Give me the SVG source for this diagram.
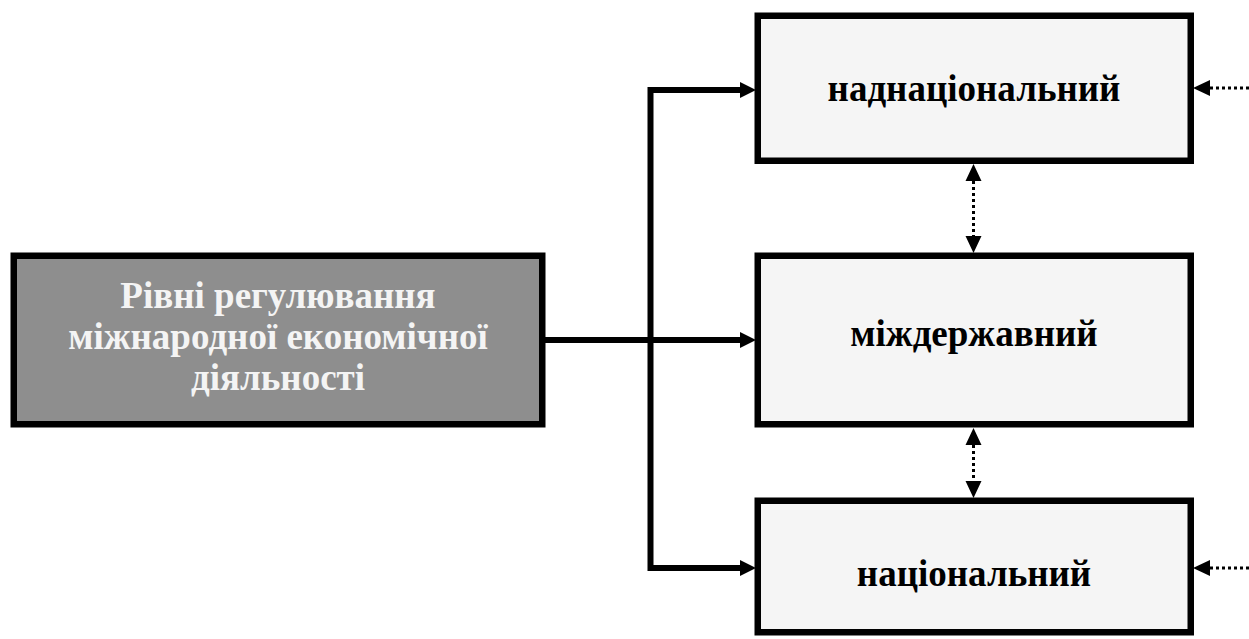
<svg xmlns="http://www.w3.org/2000/svg" width="1249" height="639" viewBox="0 0 1249 639">
<style>
.box{fill:#f5f5f5;stroke:#000;stroke-width:6.5}
.main{fill:#8e8e8e;stroke:#000;stroke-width:6.5}
.t{font-family:"Liberation Serif","Times New Roman",serif;font-weight:bold;font-size:37px;text-anchor:middle;fill:#000}
.tw{fill:#f4f4f4}
.solid{fill:none;stroke:#000;stroke-width:6}
.dot{fill:none;stroke:#000;stroke-width:3;stroke-dasharray:3 3}
</style>
<defs>
<marker id="ah" markerUnits="userSpaceOnUse" markerWidth="16" markerHeight="18" refX="0" refY="9" orient="auto">
<path d="M0,1 L16,9 L0,17 Z" fill="#000"/>
</marker>
<marker id="ah2" markerUnits="userSpaceOnUse" markerWidth="18" markerHeight="18" refX="0" refY="9" orient="auto-start-reverse">
<path d="M0,1 L17,9 L0,17 Z" fill="#000"/>
</marker>
</defs>
<g id="connectors">
<path class="solid" d="M545,340 L740,340" marker-end="url(#ah)"/>
<path class="solid" d="M740,90 L650.5,90 L650.5,568 L740,568" marker-end="url(#ah)"/>
<path class="solid" d="M650.5,90 L740,90" marker-end="url(#ah)"/>
<path class="dot" d="M1249,88 L1210,88" marker-end="url(#ah2)"/>
<path class="dot" d="M1249,568 L1210,568" marker-end="url(#ah2)"/>
<path class="dot" d="M973.5,181 L973.5,236" marker-start="url(#ah2)" marker-end="url(#ah2)"/>
<path class="dot" d="M973.5,445 L973.5,481" marker-start="url(#ah2)" marker-end="url(#ah2)"/>
</g>
<g id="root">
<rect class="main" x="13.75" y="255.75" width="528.5" height="168.5"/>
<text class="t tw" x="278" y="308">Рівні регулювання</text>
<text class="t tw" x="278" y="349">міжнародної економічної</text>
<text class="t tw" x="278" y="390">діяльності</text>
</g>
<g id="supranational">
<rect class="box" x="757.75" y="15.75" width="433" height="145"/>
<text class="t" x="974" y="101">наднаціональний</text>
</g>
<g id="interstate">
<rect class="box" x="757.75" y="255.75" width="433" height="168.5"/>
<text class="t" x="974" y="346">міждержавний</text>
</g>
<g id="national">
<rect class="box" x="757.75" y="500.75" width="433" height="131.5"/>
<text class="t" x="974" y="586">національний</text>
</g>
</svg>
